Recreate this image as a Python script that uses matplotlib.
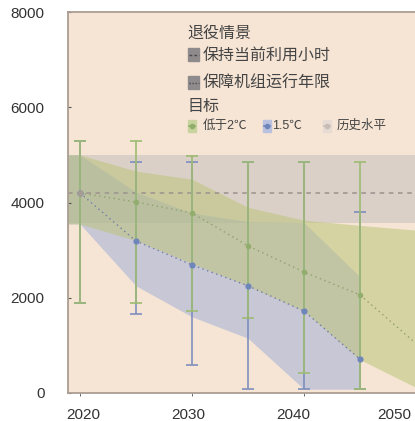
import numpy as np
import matplotlib
matplotlib.use("Agg")
import matplotlib.pyplot as plt
from matplotlib.patches import Rectangle

plt.rcParams['font.family'] = ['Liberation Sans', 'Noto Sans CJK SC', 'DejaVu Sans']

# error bar / median points (years)
years = [2020, 2025, 2030, 2035, 2040, 2045]
green_mid = [4200, 4010, 3780, 3090, 2540, 2060]
green_lo = [1900, 1900, 1720, 1575, 420, 80]
green_hi = [5300, 5300, 4980, 4850, 4850, 4850]
blue_mid = [4200, 3190, 2690, 2250, 1720, 710]
blue_lo = [1900, 1660, 590, 80, 80, 80]
blue_hi = [5300, 4850, 4850, 4850, 4850, 3800]

# green median line runs on to 2050
green_line_years = [2020, 2025, 2030, 2035, 2040, 2045, 2050]
green_line = [4200, 4010, 3780, 3090, 2540, 2060, 1040]

# shaded ranges
band_years = [2018, 2020, 2025, 2030, 2035, 2040, 2045, 2051]
green_band_hi = [5000, 5000, 4660, 4490, 3900, 3630, 3520, 3400]
green_band_lo = [3550, 3550, 3200, 2720, 2250, 1720, 700, 0]
blue_band_years = [2018, 2020, 2025, 2030, 2035, 2040, 2045]
blue_band_hi = [5000, 5000, 4220, 3780, 3600, 3580, 2440]
blue_band_lo = [3550, 3550, 2250, 1600, 1150, 80, 80]
hist_years = [2018, 2051]
hist_hi = [5000, 5000]
hist_lo = [3560, 3560]

keep_hours = 4200  # 保持当前利用小时

xtick_labels = ['2020', '2030', '2040', '2050']
ytick_vals = [0, 2000, 4000, 6000, 8000]

W, H = 415, 421
fig = plt.figure(figsize=(W / 100, H / 100), dpi=100)
ax = fig.add_axes([68 / W, 1 - 393 / H, 1 - 68 / W, (393 - 12) / H])
ax.set_facecolor('#f6e5d5')

ax.fill_between(hist_years, hist_lo, hist_hi, color='#c2bdbd', alpha=0.5, lw=0)
ax.fill_between(blue_band_years, blue_band_lo, blue_band_hi, color='#90a3d7', alpha=0.45, lw=0)
ax.fill_between(band_years, green_band_lo, green_band_hi, color='#bcc57a', alpha=0.55, lw=0)

ax.axhline(keep_hours, color='#9c928e', lw=1.1, ls=(0, (3, 3)))

g_mid = np.array(green_mid)
b_mid = np.array(blue_mid)
ax.errorbar(years, b_mid, yerr=[b_mid - np.array(blue_lo), np.array(blue_hi) - b_mid],
            fmt='none', ecolor='#7d8fbd', elinewidth=1.2, capsize=4.5, capthick=1.2)
ax.errorbar(years, g_mid, yerr=[g_mid - np.array(green_lo), np.array(green_hi) - g_mid],
            fmt='none', ecolor='#9dbb72', elinewidth=1.2, capsize=4.5, capthick=1.2)

ax.plot(green_line_years, green_line, color='#8fa06e', lw=1.0, ls=(0, (1, 2.5)))
ax.plot(years, blue_mid, color='#6f7ea8', lw=1.0, ls=(0, (1, 2.5)))
ax.plot(years, green_mid, 'o', color='#93ad6e', ms=4, mec='none')
ax.plot(years, blue_mid, 'o', color='#6f86bb', ms=4.5, mec='none')
ax.plot(years[0], green_mid[0], 'o', color='#a69c96', ms=4.5, mec='none')

ax.set_xlim(2018.93, 2049.91)
ax.set_ylim(0, 8000)

for s in ['top', 'left', 'bottom']:
    ax.spines[s].set_color('#ab9d93')
    ax.spines[s].set_linewidth(1.3)
ax.spines['right'].set_visible(False)

ax.set_yticks(ytick_vals)
ax.set_yticklabels([str(v) for v in ytick_vals])
ax.tick_params(axis='y', length=2, direction='in', color='#555555', pad=17,
               labelsize=11, labelcolor='#333333')
# labels sit a bit left of the actual decade marks in the original
ax.set_xticks([2020.27, 2029.64, 2039.02, 2048.05])
ax.set_xticklabels(xtick_labels)
ax.tick_params(axis='x', length=0, pad=11, labelsize=11, labelcolor='#333333')
ax.set_xticks([2020, 2030, 2040], minor=True)
ax.tick_params(axis='x', which='minor', length=2, direction='out', color='#555555')


# legend, drawn by hand in pixel positions
def px(x, y):
    return x / W, 1 - y / H


tc = '#444444'
fig.text(*px(187, 33), '退役情景', fontsize=11.5, color=tc, va='center')
fig.text(*px(203, 55), '保持当前利用小时', fontsize=11.5, color=tc, va='center')
fig.text(*px(203, 83), '保障机组运行年限', fontsize=11.5, color=tc, va='center')
fig.text(*px(187, 106), '目标', fontsize=11.5, color=tc, va='center')
fig.text(*px(203, 126), '低于2℃', fontsize=9, color=tc, va='center')
fig.text(*px(272, 126), '1.5℃', fontsize=9, color=tc, va='center')
fig.text(*px(337, 126), '历史水平', fontsize=9, color=tc, va='center')

for (x0, y0, c) in [(188, 48, '#8f8a8b'), (188, 76, '#8f8a8b')]:
    fig.patches.append(Rectangle(px(x0, y0 + 13), 11 / W, 13 / H, color=c,
                                 transform=fig.transFigure, figure=fig))
fig.add_artist(plt.Line2D([189 / W, 199 / W], [1 - 55 / H] * 2, color='#4a4a4a',
                          lw=1.0, ls=(0, (2, 1.5)), transform=fig.transFigure))
fig.add_artist(plt.Line2D([189 / W, 199 / W], [1 - 83 / H] * 2, color='#4a4a4a',
                          lw=1.0, ls=(0, (1, 1.2)), transform=fig.transFigure))

for (x0, fc, mc) in [(188, '#c9d3a0', '#8fae6a'), (263, '#b9c1de', '#6f86bb'),
                     (323, '#e6dcd4', '#c8bcb6')]:
    fig.patches.append(Rectangle(px(x0, 132), 8 / W, 12 / H, color=fc,
                                 transform=fig.transFigure, figure=fig))
    fig.add_artist(plt.Line2D([(x0 + 1) / W, (x0 + 7) / W], [1 - 126 / H] * 2,
                              color=mc, lw=1.2, transform=fig.transFigure))
    fig.add_artist(plt.Line2D([(x0 + 4) / W], [1 - 126 / H], color=mc, marker='o',
                              ms=3, lw=0, transform=fig.transFigure))

fig.savefig('out.png', dpi=100)
